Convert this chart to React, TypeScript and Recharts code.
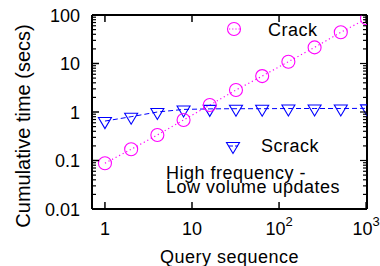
import { LineChart, Line, XAxis, YAxis, Customized } from "recharts";

// query number (log axis) and cumulative time in secs
const queries = [1, 2, 4, 8, 16, 32, 64, 128, 256, 512, 1024];
const crackTimes = [0.088, 0.17, 0.336, 0.684, 1.39, 2.84, 5.5, 10.9, 21.5, 44, 85];
const scrackTimes = [0.65, 0.8, 1.0, 1.13, 1.16, 1.17, 1.17, 1.18, 1.18, 1.18, 1.19];

const xTicks = [1, 10, 100, 1000];
const xTickBase = ["1", "10", "10", "10"];
const xTickExp = ["", "", "2", "3"];
const yMajorTicks = [0.01, 0.1, 1, 10, 100];
const yTickLabels = ["0.01", "0.1", "1", "10", "100"];
const yMinorTicks: number[] = [];
yMajorTicks.slice(0, 4).forEach((d) => {
    for (let m = 2; m <= 9; m++) yMinorTicks.push(d * m);
});
const yAllTicks = [...yMajorTicks, ...yMinorTicks];

const chartData = queries.map((q, i) => ({
    q,
    crack: crackTimes[i],
    scrack: scrackTimes[i],
}));

const FONT = "'Liberation Sans', Arial, Helvetica, sans-serif";
const MAGENTA = "#ff00ff";
const BLUE = "#0000ff";
const X_DOMAIN = [0.71, 1024];
const Y_DOMAIN = [0.01, 100];

function BottomTick(props: any) {
    const { x, y, payload } = props;
    const i = xTicks.indexOf(payload.value);
    return (
        <g>
            <line x1={x} y1={y} x2={x} y2={y - 7} stroke="#000" strokeWidth={1.5} />
            <text x={x} y={y + 26} textAnchor="middle" fontSize={18} fontFamily={FONT} fill="#000">
                {xTickBase[i]}
                {xTickExp[i] && (
                    <tspan fontSize={13} dy={-9}>
                        {xTickExp[i]}
                    </tspan>
                )}
            </text>
        </g>
    );
}

function TopTick(props: any) {
    const { x, y } = props;
    return <line x1={x} y1={y} x2={x} y2={y + 7} stroke="#000" strokeWidth={1.5} />;
}

function LeftTick(props: any) {
    const { x, y, payload } = props;
    const i = yMajorTicks.indexOf(payload.value);
    if (i < 0) return <line x1={x} y1={y} x2={x + 4} y2={y} stroke="#000" strokeWidth={1.2} />;
    return (
        <g>
            <line x1={x} y1={y} x2={x + 7} y2={y} stroke="#000" strokeWidth={1.5} />
            <text x={x - 12} y={y + 6.5} textAnchor="end" fontSize={18} fontFamily={FONT} fill="#000">
                {yTickLabels[i]}
            </text>
        </g>
    );
}

function RightTick(props: any) {
    const { x, y, payload } = props;
    const len = yMajorTicks.includes(payload.value) ? 7 : 4;
    return <line x1={x} y1={y} x2={x - len} y2={y} stroke="#000" strokeWidth={1.2} />;
}

function triangle(cx: number, cy: number) {
    return `M${cx - 6.5},${cy - 3.5} L${cx + 6.5},${cy - 3.5} L${cx},${cy + 7.5} Z`;
}

const crackDot = (p: any) => (
    <circle key={`c${p.index}`} cx={p.cx} cy={p.cy} r={6.5} fill="none" stroke={MAGENTA} strokeWidth={1.1} />
);

const scrackDot = (p: any) => (
    <path key={`s${p.index}`} d={triangle(p.cx, p.cy)} fill="none" stroke={BLUE} strokeWidth={1.1} />
);

// keys, annotation and y label
function Annotations() {
    const txt = { fontFamily: FONT, fontSize: 18, fill: "#000", letterSpacing: 0.5 };
    return (
        <g>
            <circle cx={234} cy={29} r={6.5} fill="none" stroke={MAGENTA} strokeWidth={1.1} />
            <line x1={229} y1={29} x2={240} y2={29} stroke={MAGENTA} strokeWidth={1} strokeDasharray="1.2 2" />
            <text x={268} y={36} {...txt}>Crack</text>

            <path d={triangle(233, 146)} fill="none" stroke={BLUE} strokeWidth={1.1} />
            <line x1={229} y1={146} x2={238} y2={146} stroke={BLUE} strokeWidth={1} strokeDasharray="4 2" />
            <text x={261} y={152} {...txt}>Scrack</text>

            <text x={166} y={179} {...txt}>High frequency -</text>
            <text x={166} y={193} {...txt}>Low volume updates</text>

            <text
                x={30}
                y={126}
                transform="rotate(-90 30 126)"
                textAnchor="middle"
                fontFamily={FONT}
                fontSize={20}
                fill="#000"
            >
                Cumulative time (secs)
            </text>
        </g>
    );
}

export default function App() {
    return (
        <div style={{ position: "absolute", left: 0, top: 0, width: 380, height: 266, background: "#fff" }}>
            <LineChart width={380} height={266} data={chartData} margin={{ top: 14, right: 12, left: 0, bottom: 0 }}>
                <XAxis
                    dataKey="q"
                    type="number"
                    scale="log"
                    domain={X_DOMAIN}
                    allowDataOverflow
                    ticks={xTicks}
                    interval={0}
                    height={57}
                    tickSize={0}
                    tickMargin={0}
                    tick={<BottomTick />}
                    axisLine={{ stroke: "#000", strokeWidth: 2 }}
                    label={{ value: "Query sequence", position: "insideBottom", offset: 3, fontSize: 18, fontFamily: FONT, fill: "#000", letterSpacing: 0.5 }}
                />
                <XAxis
                    xAxisId="top"
                    dataKey="q"
                    orientation="top"
                    type="number"
                    scale="log"
                    domain={X_DOMAIN}
                    allowDataOverflow
                    ticks={xTicks}
                    interval={0}
                    height={1}
                    tickSize={0}
                    tickMargin={0}
                    tick={<TopTick />}
                    axisLine={{ stroke: "#000", strokeWidth: 2 }}
                />
                <YAxis
                    type="number"
                    scale="log"
                    domain={Y_DOMAIN}
                    allowDataOverflow
                    ticks={yAllTicks}
                    interval={0}
                    width={92}
                    tickSize={0}
                    tickMargin={0}
                    tick={<LeftTick />}
                    axisLine={{ stroke: "#000", strokeWidth: 2 }}
                />
                <YAxis
                    yAxisId="right"
                    orientation="right"
                    type="number"
                    scale="log"
                    domain={Y_DOMAIN}
                    allowDataOverflow
                    ticks={yAllTicks}
                    interval={0}
                    width={1}
                    tickSize={0}
                    tickMargin={0}
                    tick={<RightTick />}
                    axisLine={{ stroke: "#000", strokeWidth: 2 }}
                />
                {/* invisible series so the mirrored frame axes get drawn */}
                <Line
                    xAxisId="top"
                    yAxisId="right"
                    dataKey="crack"
                    stroke="none"
                    dot={false}
                    activeDot={false}
                    legendType="none"
                    isAnimationActive={false}
                />
                <Line
                    dataKey="scrack"
                    stroke={BLUE}
                    strokeWidth={1}
                    strokeDasharray="5 3"
                    dot={scrackDot}
                    activeDot={false}
                    isAnimationActive={false}
                />
                <Line
                    dataKey="crack"
                    stroke={MAGENTA}
                    strokeWidth={1.2}
                    strokeDasharray="1.2 2.8"
                    dot={crackDot}
                    activeDot={false}
                    isAnimationActive={false}
                />
                <Customized component={Annotations} />
            </LineChart>
        </div>
    );
}
